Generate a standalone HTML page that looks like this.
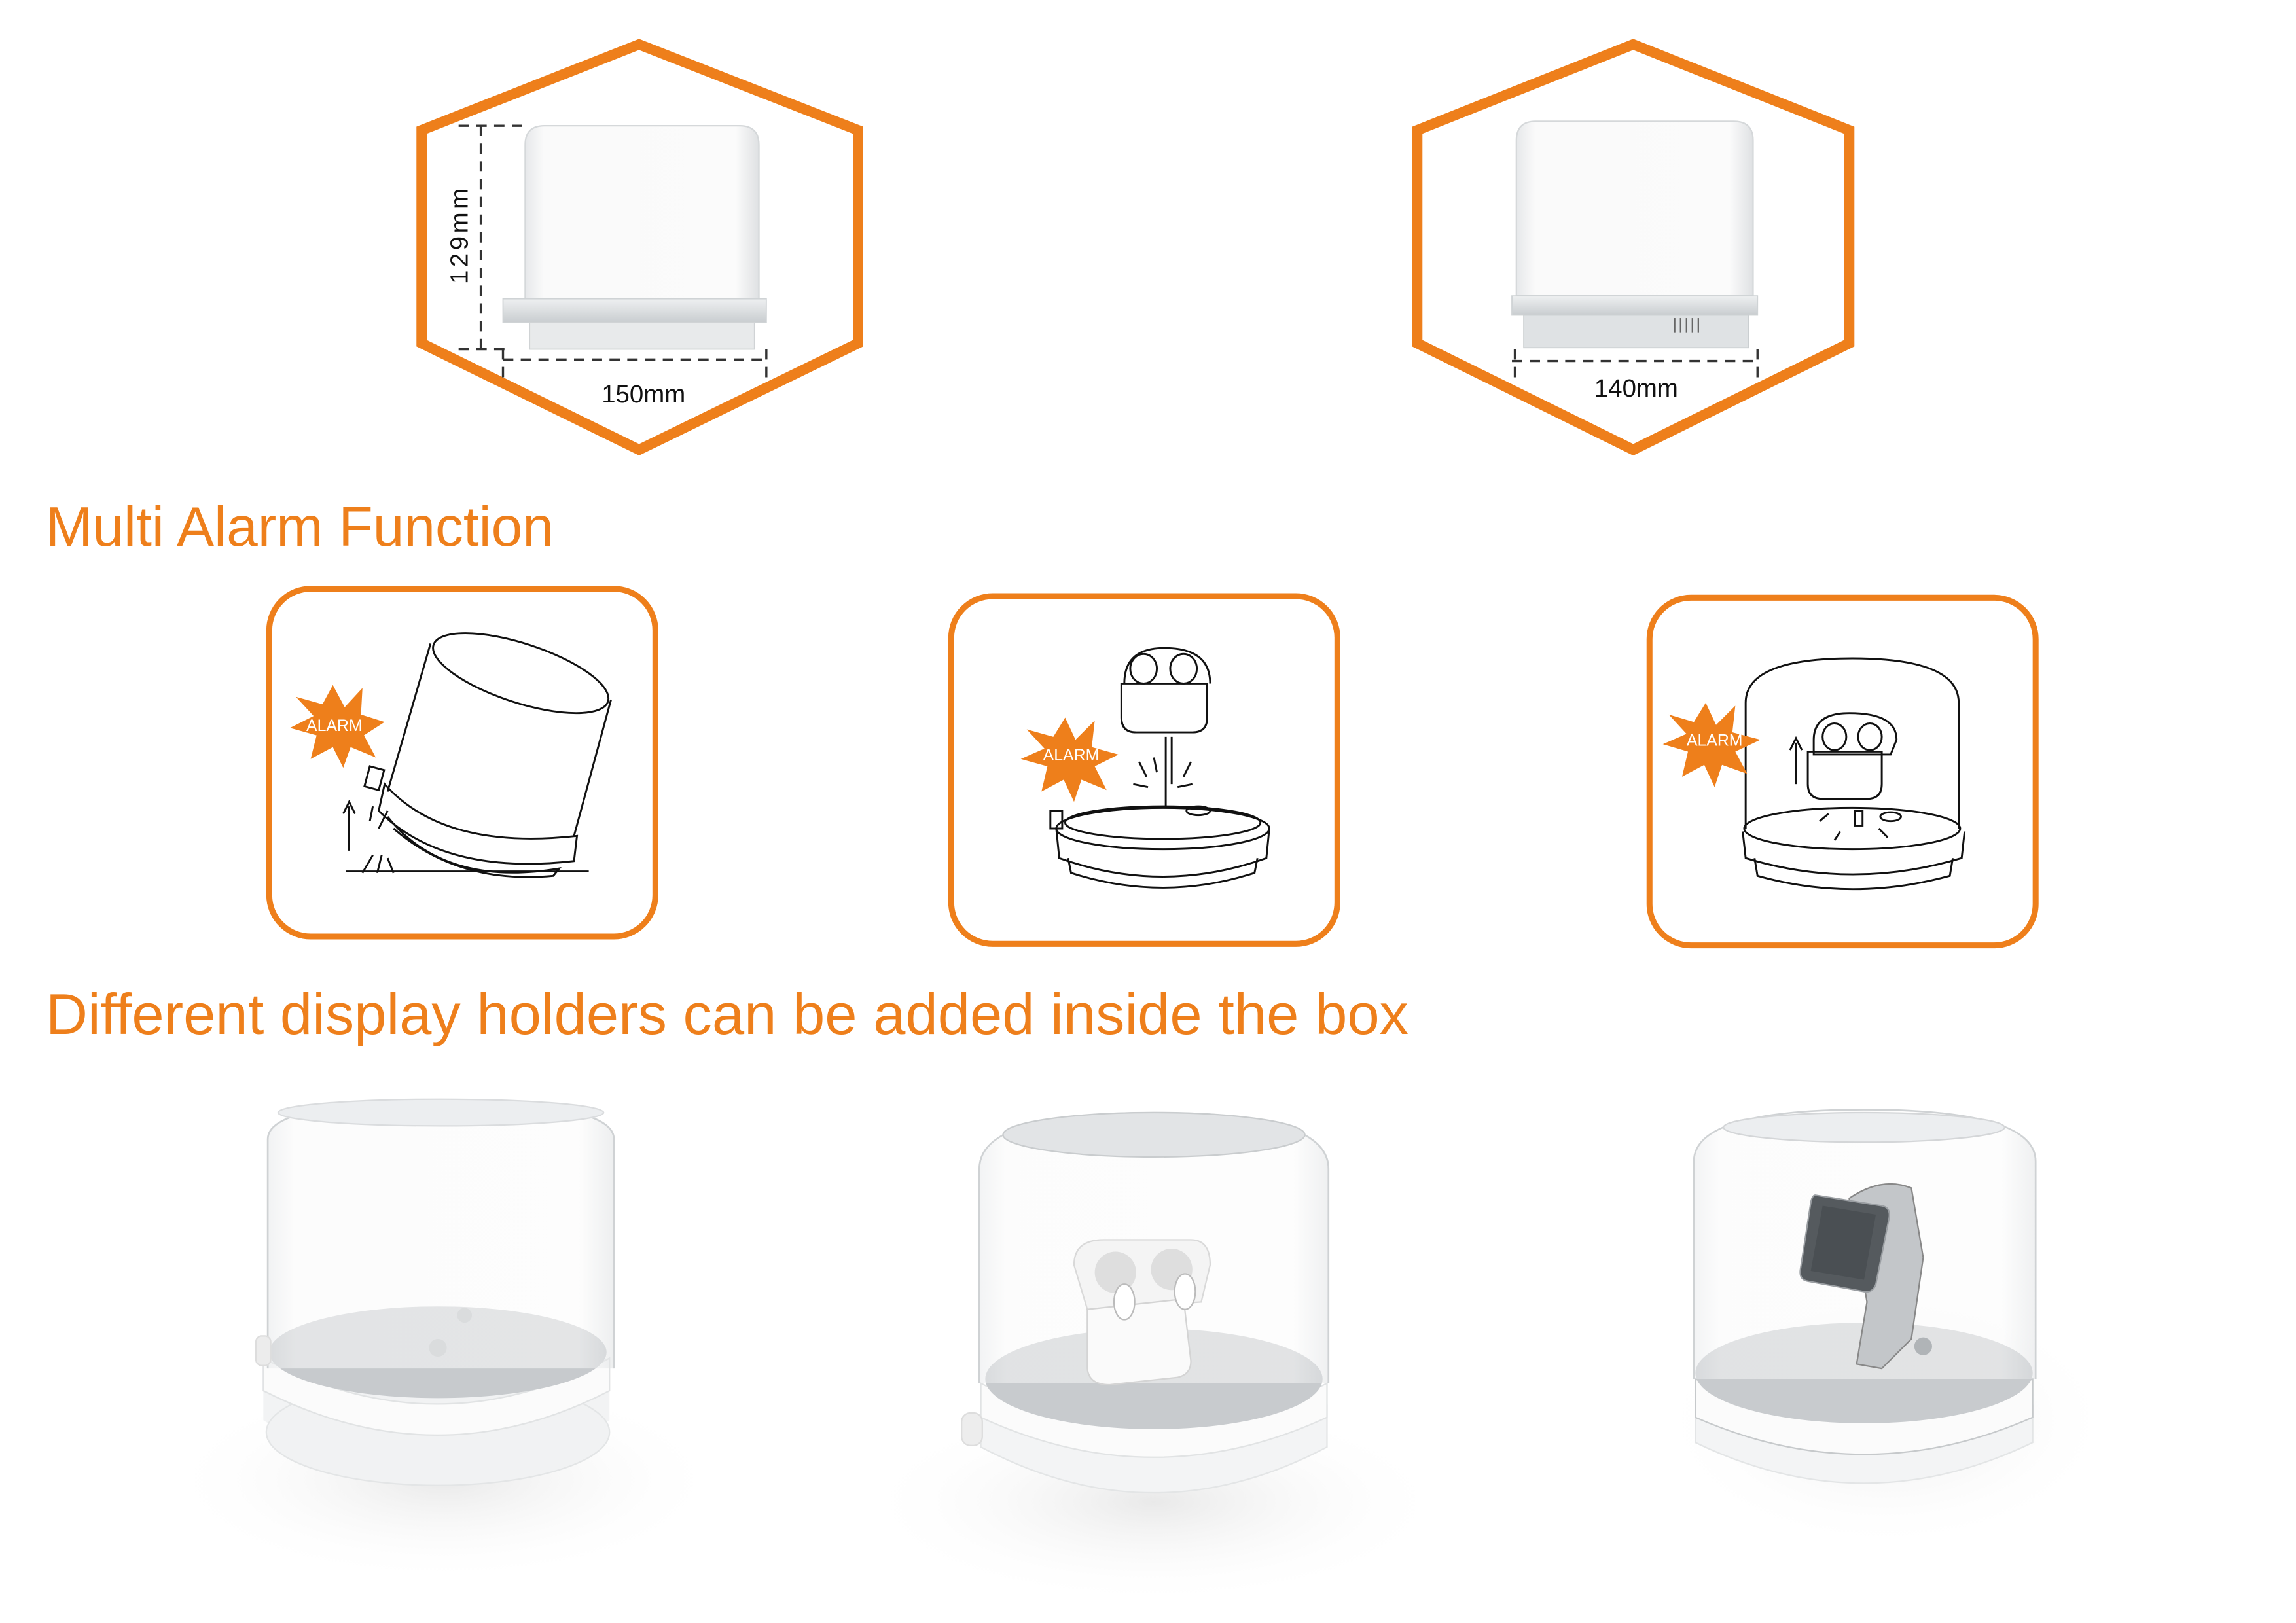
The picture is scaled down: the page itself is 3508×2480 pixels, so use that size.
<!DOCTYPE html>
<html><head><meta charset="utf-8"><style>
html,body{margin:0;padding:0;background:#fff;}
svg{display:block;}
text{font-family:"Liberation Sans",sans-serif;}
</style></head><body>
<svg width="3508" height="2480" viewBox="0 0 1552 1097" preserveAspectRatio="none" xmlns="http://www.w3.org/2000/svg">
<defs>
<linearGradient id="glass" x1="0" x2="1">
<stop offset="0" stop-color="#e6e8ea"/><stop offset="0.08" stop-color="#fafafa"/><stop offset="0.9" stop-color="#fbfbfb"/><stop offset="1" stop-color="#dfe1e3"/>
</linearGradient>
<linearGradient id="band" x1="0" y1="0" x2="0" y2="1"><stop offset="0" stop-color="#eef0f1"/><stop offset="1" stop-color="#c9cdd0"/></linearGradient>
<radialGradient id="shadow"><stop offset="0" stop-color="#e9e9e9"/><stop offset="1" stop-color="#fff" stop-opacity="0"/></radialGradient>
</defs>

<polygon points="432,30 580,88 580,232 432,304 285,232 285,88" fill="none" stroke="#EE7F1B" stroke-width="7"/>
<polygon points="1104,30 1250,88 1250,232 1104,304 958,232 958,88" fill="none" stroke="#EE7F1B" stroke-width="7"/>

<path d="M355,205 L355,98 Q355,85 368,85 L500,85 Q513,85 513,98 L513,205 Z" fill="url(#glass)" stroke="#d5d8da" stroke-width="1"/>
<rect x="340" y="202" width="178" height="16" fill="url(#band)" stroke="#cfd3d5" stroke-width="0.8"/>
<rect x="358" y="218" width="152" height="18" fill="#e8eaeb" stroke="#d0d3d5" stroke-width="0.8"/>
<g stroke="#333" stroke-width="1.5" stroke-dasharray="7,5" fill="none">
<line x1="325" y1="85" x2="325" y2="236"/>
<line x1="310" y1="85" x2="358" y2="85"/>
<line x1="310" y1="236" x2="345" y2="236"/>
<line x1="340" y1="243" x2="518" y2="243"/>
<line x1="340" y1="236" x2="340" y2="258"/>
<line x1="518" y1="236" x2="518" y2="258"/>
</g>
<text x="0" y="0" font-size="17" fill="#111" transform="translate(316,192) rotate(-90)" letter-spacing="2">129mm</text>
<text x="435" y="272" font-size="17" fill="#111" text-anchor="middle">150mm</text>

<path d="M1025,200 L1025,95 Q1025,82 1038,82 L1172,82 Q1185,82 1185,95 L1185,200 Z" fill="url(#glass)" stroke="#d5d8da" stroke-width="1"/>
<rect x="1022" y="200" width="166" height="13" fill="url(#band)" stroke="#cfd3d5" stroke-width="0.8"/>
<rect x="1030" y="213" width="152" height="22" fill="#dfe2e4" stroke="#cbcfd1" stroke-width="0.8"/>
<g stroke="#666" stroke-width="1"><line x1="1132" y1="215" x2="1132" y2="225"/><line x1="1136" y1="215" x2="1136" y2="225"/><line x1="1140" y1="215" x2="1140" y2="225"/><line x1="1144" y1="215" x2="1144" y2="225"/><line x1="1148" y1="215" x2="1148" y2="225"/></g>
<g stroke="#333" stroke-width="1.5" stroke-dasharray="7,5" fill="none">
<line x1="1022" y1="244" x2="1188" y2="244"/>
<line x1="1024" y1="236" x2="1024" y2="258"/>
<line x1="1188" y1="236" x2="1188" y2="258"/>
</g>
<text x="1106" y="268" font-size="17" fill="#111" text-anchor="middle">140mm</text>

<text x="31" y="369" font-size="37.9" fill="#EE7F1B">Multi Alarm Function</text>
<text x="31" y="699" font-size="39.2" fill="#EE7F1B">Different display holders can be added inside the box</text>

<rect x="182" y="398" width="261" height="235" rx="28" fill="none" stroke="#EE7F1B" stroke-width="4"/>
<rect x="643" y="403" width="261" height="235" rx="28" fill="none" stroke="#EE7F1B" stroke-width="4"/>
<rect x="1115" y="404" width="261" height="235" rx="28" fill="none" stroke="#EE7F1B" stroke-width="4"/>

<g fill="none" stroke="#111" stroke-width="1.3">
<ellipse cx="352" cy="455" rx="62" ry="20" transform="rotate(18 352 455)"/>
<path d="M291,435 L262,535"/>
<path d="M413,473 L388,565"/>
<path d="M260,530 Q300,575 390,565 L388,582 Q300,592 256,548 Z"/>
<path d="M262,552 Q300,600 378,587 L374,592 Q310,598 266,560"/>
<rect x="248" y="519" width="10" height="14" transform="rotate(15 253 526)"/>
<line x1="234" y1="589" x2="398" y2="589"/>
<line x1="236" y1="575" x2="236" y2="545"/>
<path d="M232,550 L236,542 L240,550"/>
<path d="M250,555 L252,545 M256,560 L262,548 M245,590 L252,578 M255,590 L258,578 M266,590 L262,580"/>
</g>
<polygon points="225,463 233,478 245,465 244,483 260,488 246,497 254,512 237,505 232,519 225,505 210,513 214,497 196,492 212,484 200,471 218,476" fill="#EE7F1B"/>
<text x="226" y="494" font-size="11" fill="#fff" text-anchor="middle">ALARM</text>

<g fill="none" stroke="#111" stroke-width="1.3">
<ellipse cx="786" cy="560" rx="72" ry="14"/>
<ellipse cx="786" cy="556" rx="66" ry="11"/>
<path d="M714,560 L716,580 Q786,605 856,580 L858,560"/>
<path d="M722,580 L724,590 Q786,610 848,590 L850,580"/>
<rect x="710" y="548" width="8" height="12"/>
<ellipse cx="810" cy="548" rx="8" ry="3"/>
<line x1="788" y1="498" x2="788" y2="545"/>
<line x1="792" y1="498" x2="792" y2="530"/>
<path d="M758,462 L758,485 Q758,495 768,495 L806,495 Q816,495 816,485 L816,462 Z"/>
<path d="M760,462 Q760,438 787,438 Q818,438 818,462"/>
<ellipse cx="773" cy="452" rx="9" ry="10"/><ellipse cx="800" cy="452" rx="9" ry="10"/>
<path d="M770,515 L775,525 M805,515 L800,525 M766,530 L776,532 M806,530 L796,532 M780,512 L782,522"/>
</g>
<polygon points="720,485 727,500 740,487 738,505 756,510 740,518 748,534 731,527 726,542 719,527 704,535 708,518 690,513 706,506 694,493 712,498" fill="#EE7F1B"/>
<text x="724" y="514" font-size="11" fill="#fff" text-anchor="middle">ALARM</text>

<g fill="none" stroke="#111" stroke-width="1.3">
<path d="M1180,560 L1180,475 Q1180,445 1252,445 Q1324,445 1324,475 L1324,560"/>
<ellipse cx="1252" cy="560" rx="73" ry="14"/>
<path d="M1178,562 L1180,580 Q1252,602 1326,580 L1328,562"/>
<path d="M1186,580 L1188,592 Q1252,610 1318,592 L1320,580"/>
<rect x="1254" y="548" width="5" height="10"/>
<ellipse cx="1278" cy="552" rx="7" ry="3"/>
<path d="M1222,508 L1222,530 Q1222,540 1232,540 L1262,540 Q1272,540 1272,530 L1272,508 Z"/>
<path d="M1226,500 Q1226,482 1250,482 Q1282,482 1282,500 L1278,510 L1226,510 Z"/>
<ellipse cx="1240" cy="498" rx="8" ry="9"/><ellipse cx="1264" cy="498" rx="8" ry="9"/>
<line x1="1214" y1="530" x2="1214" y2="502"/>
<path d="M1210,507 L1214,499 L1218,507"/>
<path d="M1230,555 L1236,550 M1270,560 L1276,566 M1240,568 L1244,562"/>
</g>
<polygon points="1153,475 1160,490 1173,477 1171,495 1190,500 1173,508 1181,523 1164,517 1159,532 1152,517 1137,525 1141,508 1124,503 1140,496 1128,483 1145,488" fill="#EE7F1B"/>
<text x="1159" y="504" font-size="11" fill="#fff" text-anchor="middle">ALARM</text>

<ellipse cx="300" cy="1000" rx="190" ry="70" fill="url(#shadow)"/>
<path d="M178,935 L178,960 Q296,1035 412,960 L412,935 Z" fill="#f2f3f4"/>
<ellipse cx="296" cy="968" rx="116" ry="36" fill="#f1f2f3" stroke="#e3e5e6"/>
<path d="M178,918 Q296,980 412,918 L412,940 Q296,1000 178,940 Z" fill="#fbfbfb" stroke="#e1e3e4"/>
<ellipse cx="296" cy="914" rx="114" ry="31" fill="#c7cacd"/>
<circle cx="296" cy="911" r="6" fill="#b2b6b9"/><circle cx="314" cy="889" r="5" fill="#b2b6b9"/>
<path d="M181,925 L181,770 Q181,745 298,745 Q415,745 415,770 L415,925" fill="url(#glass)" fill-opacity="0.55" stroke="#cfd2d4" stroke-width="1.2"/>
<ellipse cx="298" cy="752" rx="110" ry="9" fill="#eceef0" stroke="#dadcde"/>
<rect x="173" y="903" width="10" height="20" rx="4" fill="#ececec" stroke="#ddd"/>

<ellipse cx="780" cy="1015" rx="200" ry="70" fill="url(#shadow)"/>
<path d="M663,950 L663,978 Q780,1040 897,978 L897,950 Z" fill="#f3f4f5" stroke="#e3e5e6"/>
<path d="M663,935 Q780,995 897,935 L897,958 Q780,1012 663,958 Z" fill="#fbfbfb" stroke="#e1e3e4"/>
<ellipse cx="780" cy="932" rx="114" ry="34" fill="#c8cbce"/>
<path d="M662,935 L662,790 Q662,752 780,752 Q898,752 898,790 L898,935" fill="url(#glass)" fill-opacity="0.5" stroke="#cfd2d4" stroke-width="1.2"/>
<ellipse cx="780" cy="767" rx="102" ry="15" fill="#e2e4e6" stroke="#c9ccce"/>
<rect x="650" y="955" width="14" height="22" rx="6" fill="#ededed" stroke="#ddd"/>
<path d="M726,855 Q726,838 746,838 L805,838 Q818,838 818,855 L812,880 L735,885 Z" fill="#f4f4f4" stroke="#d9d9d9"/>
<ellipse cx="754" cy="860" rx="14" ry="14" fill="#dedede"/><ellipse cx="792" cy="858" rx="14" ry="14" fill="#dedede"/>
<path d="M735,885 L735,925 Q736,936 750,936 L796,931 Q805,929 805,920 L800,878 Z" fill="#fafafa" stroke="#d4d4d4"/>
<ellipse cx="760" cy="880" rx="7" ry="12" fill="#fff" stroke="#bbb"/><ellipse cx="801" cy="873" rx="7" ry="12" fill="#fff" stroke="#bbb"/>

<ellipse cx="1275" cy="960" rx="155" ry="88" fill="url(#shadow)"/>
<path d="M1146,950 L1146,975 Q1260,1030 1374,975 L1374,950 Z" fill="#f3f4f5" stroke="#e3e5e6"/>
<path d="M1146,932 Q1260,990 1374,932 L1374,958 Q1260,1008 1146,958 Z" fill="#fbfbfb" stroke="#c6c9cb"/>
<ellipse cx="1260" cy="928" rx="114" ry="34" fill="#c8cbce"/>
<path d="M1145,932 L1145,785 Q1145,750 1260,750 Q1376,750 1376,785 L1376,932" fill="url(#glass)" fill-opacity="0.5" stroke="#cfd2d4" stroke-width="1.2"/>
<ellipse cx="1260" cy="762" rx="95" ry="10" fill="#eceef0" stroke="#d4d6d8"/>
<path d="M1250,810 Q1272,795 1292,803 L1300,850 L1292,905 L1272,925 L1255,922 L1262,880 Z" fill="#c3c6c9" stroke="#888"/>
<path d="M1228,808 L1272,815 Q1278,816 1277,823 L1268,868 Q1266,874 1260,873 L1222,866 Q1216,865 1217,858 L1224,813 Q1225,807 1228,808 Z" fill="#555a5e" stroke="#9a9ea2"/>
<path d="M1232,815 L1268,821 L1260,865 L1224,859 Z" fill="#4a4f53"/>
<circle cx="1300" cy="910" r="6" fill="#b0b4b7"/>
</svg>
</body></html>
